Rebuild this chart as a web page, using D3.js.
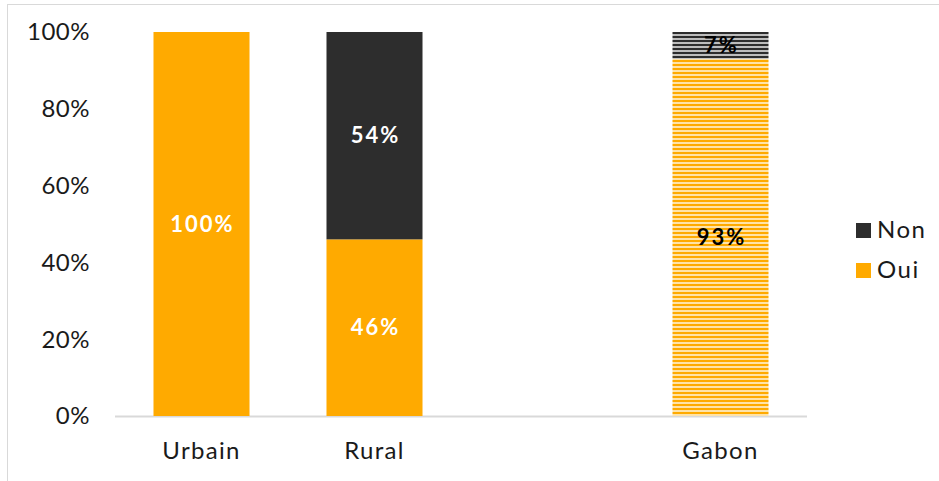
<!DOCTYPE html>
<html lang="fr">
<head>
<meta charset="UTF-8">
<title>Oui / Non par milieu</title>
<style>
  body { margin: 0; background: #fff; font-family: Lato, "Noto Sans", sans-serif; }
  svg text { fill: #1a1a1a; }
</style>
</head>
<body>
<svg id="chart" width="939" height="481"></svg>
<script src="https://d3js.org/d3.v7.min.js"></script>
<script>
// data
const categories = ["Urbain", "Rural", "", "Gabon"];
const oui = [100, 46, null, 93];
const non = [0, 54, null, 7];
const hatched = [false, false, false, true];
const yTicks = [0, 20, 40, 60, 80, 100];
const seriesNames = ["Non", "Oui"];

const orange = "#FFAA00";
const dark = "#2D2D2D";

const svg = d3.select("#chart");

// outer frame of the chart area
svg.append("rect")
    .attr("x", 7.5).attr("y", 4.5)
    .attr("width", 940).attr("height", 480)
    .attr("fill", "none")
    .attr("stroke", "#d9d9d9");

// stripe patterns for the Gabon bar
const defs = svg.append("defs");
function stripes(id, color, gap) {
    const p = defs.append("pattern")
        .attr("id", id)
        .attr("patternUnits", "userSpaceOnUse")
        .attr("width", 8).attr("height", 4);
    p.append("rect").attr("width", 8).attr("height", 4).attr("fill", gap);
    p.append("rect").attr("y", 0).attr("width", 8).attr("height", 2).attr("fill", color);
}
stripes("stripeOui", orange, "#FFE3A8");
stripes("stripeNon", dark, "#BDBDBD");

const x = d3.scaleBand()
    .domain(d3.range(categories.length))
    .range([115, 807])
    .paddingInner(0.445)
    .paddingOuter(0.2225);

const y = d3.scaleLinear().domain([0, 100]).range([416, 32]);

// y tick labels
svg.append("g")
    .selectAll("text")
    .data(yTicks)
    .join("text")
    .attr("x", 90)
    .attr("y", d => y(d))
    .attr("dy", "0.35em")
    .attr("text-anchor", "end")
    .style("font-size", "24px")
    .style("letter-spacing", "0.5px")
    .text(d => d + "%");

// baseline
svg.append("line")
    .attr("x1", 115).attr("x2", 807)
    .attr("y1", y(0) + 0.5).attr("y2", y(0) + 0.5)
    .attr("stroke", "#d9d9d9")
    .attr("stroke-width", 2);

// stacked segments
const segs = [];
categories.forEach((c, i) => {
    if (oui[i] == null) return;
    segs.push({ i, s: "Oui", y0: 0, y1: oui[i], v: oui[i] });
    if (non[i] > 0) segs.push({ i, s: "Non", y0: oui[i], y1: oui[i] + non[i], v: non[i] });
});

svg.append("g")
    .selectAll("rect")
    .data(segs)
    .join("rect")
    .attr("x", d => x(d.i))
    .attr("width", x.bandwidth())
    .attr("y", d => y(d.y1))
    .attr("height", d => y(d.y0) - y(d.y1))
    .attr("fill", d => {
        if (hatched[d.i]) return d.s === "Oui" ? "url(#stripeOui)" : "url(#stripeNon)";
        return d.s === "Oui" ? orange : dark;
    });

// value labels
svg.append("g")
    .selectAll("text")
    .data(segs)
    .join("text")
    .attr("x", d => x(d.i) + x.bandwidth() / 2 + 1)
    .attr("y", d => y((d.y0 + d.y1) / 2))
    .attr("dy", "0.35em")
    .attr("text-anchor", "middle")
    .style("font-size", "22px")
    .style("font-weight", "bold")
    .style("letter-spacing", "2px")
    .style("fill", d => hatched[d.i] ? "#000" : "#fff")
    .text(d => d.v + "%");

// category labels
svg.append("g")
    .selectAll("text")
    .data(categories)
    .join("text")
    .attr("x", (d, i) => x(i) + x.bandwidth() / 2)
    .attr("y", 451)
    .attr("dy", "0.35em")
    .attr("text-anchor", "middle")
    .style("font-size", "24px")
    .style("letter-spacing", "1.3px")
    .text(d => d);

// legend
const legend = svg.append("g")
    .selectAll("g")
    .data(seriesNames)
    .join("g")
    .attr("transform", (d, i) => `translate(856, ${230 + i * 40})`);

legend.append("rect")
    .attr("x", 0).attr("y", -7)
    .attr("width", 15).attr("height", 15)
    .attr("fill", d => d === "Oui" ? orange : dark);

legend.append("text")
    .attr("x", 21)
    .attr("dy", "0.35em")
    .style("font-size", "24px")
    .style("letter-spacing", "1.5px")
    .text(d => d);
</script>
</body>
</html>
